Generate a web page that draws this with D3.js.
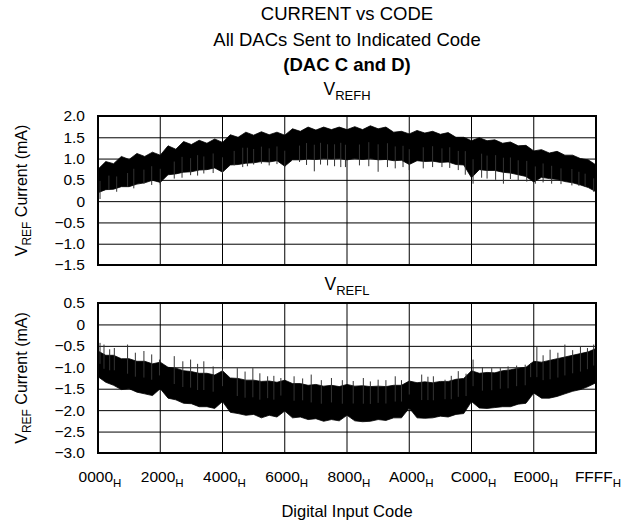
<!DOCTYPE html>
<html lang="en">
<head>
<meta charset="utf-8">
<title>Current vs Code</title>
<script src="https://cdnjs.cloudflare.com/ajax/libs/d3/7.8.5/d3.min.js"></script>
<style>
  body { margin: 0; background: #fff; }
  svg { display: block; font-family: "Liberation Sans", Arial, Helvetica, sans-serif; }
</style>
</head>
<body>
<svg id="chart" width="638" height="525"></svg>
<script>
// envelope sampled every 0x400 codes (index k -> code k*0x400)
const sampleStep = 0x400;

// x axis categories
const hexTicks = ["0000", "2000", "4000", "6000", "8000", "A000", "C000", "E000", "FFFF"];

// y tick labels
const refhTicks = [2.0, 1.5, 1.0, 0.5, 0, -0.5, -1.0, -1.5];
const reflTicks = [0.5, 0, -0.5, -1.0, -1.5, -2.0, -2.5, -3.0];

// VREFH band (mA): top and bottom edge of the dense trace
const refhUpper = [0.75, 0.93, 0.88, 1.05, 0.98, 1.12, 1.05, 1.15, 1.08, 1.30, 1.22, 1.40, 1.33, 1.43, 1.36, 1.46,
  1.38, 1.56, 1.50, 1.62, 1.55, 1.63, 1.56, 1.62, 1.55, 1.70, 1.64, 1.74, 1.67, 1.74, 1.68, 1.74,
  1.68, 1.75, 1.68, 1.77, 1.70, 1.74, 1.62, 1.64, 1.58, 1.66, 1.60, 1.64, 1.57, 1.61, 1.50, 1.50,
  1.42, 1.49, 1.42, 1.44, 1.36, 1.39, 1.30, 1.31, 1.18, 1.21, 1.13, 1.17, 1.08, 1.08, 1.00, 0.97, 0.85];
const refhLower = [0.20, 0.27, 0.28, 0.34, 0.34, 0.40, 0.43, 0.49, 0.44, 0.62, 0.64, 0.68, 0.69, 0.73, 0.74, 0.78,
  0.68, 0.85, 0.86, 0.89, 0.90, 0.93, 0.92, 0.95, 0.82, 0.97, 0.97, 0.99, 0.98, 1.00, 0.99, 1.00,
  0.97, 1.00, 0.98, 1.00, 0.97, 0.98, 0.95, 0.96, 0.86, 0.95, 0.93, 0.94, 0.91, 0.92, 0.86, 0.85,
  0.55, 0.74, 0.72, 0.72, 0.68, 0.66, 0.62, 0.58, 0.45, 0.56, 0.53, 0.51, 0.46, 0.43, 0.38, 0.32, 0.22];
// downward glitches: [code, mA]
const refhSpikes = [[266, 0.05], [1434, 0.26], [2458, 0.22], [3891, 0.34], [4710, 0.30], [6042, 0.41], [7066, 0.38],
  [8192, 0.39], [10035, 0.53], [11059, 0.55], [12186, 0.61], [13107, 0.60], [13926, 0.65], [15155, 0.66],
  [16384, 0.65], [17920, 0.84], [19046, 0.80], [19661, 0.82], [20480, 0.86], [21504, 0.88], [22528, 0.84],
  [23552, 0.87], [24576, 0.80], [26522, 0.92], [27443, 0.85], [28467, 0.70], [29286, 0.86], [30208, 0.84],
  [31130, 0.82], [31949, 0.80], [32563, 0.80], [34406, 0.84], [35635, 0.82], [36864, 0.69], [38093, 0.80],
  [39117, 0.77], [40141, 0.80], [40960, 0.73], [42803, 0.77], [44032, 0.80], [45261, 0.80], [46285, 0.78],
  [47411, 0.73], [48333, 0.62], [49357, 0.41], [50483, 0.55], [51200, 0.53], [52326, 0.50], [53350, 0.41],
  [54272, 0.52], [55296, 0.49], [56422, 0.46], [57549, 0.41], [58573, 0.44], [59699, 0.41], [60928, 0.40],
  [62362, 0.37], [63283, 0.36], [64102, 0.34], [65229, 0.22]];

// VREFL band (mA)
const reflUpper = [-0.62, -0.72, -0.72, -0.80, -0.80, -0.86, -0.86, -0.92, -0.88, -1.00, -1.02, -1.08, -1.10, -1.14, -1.14, -1.18,
  -1.08, -1.25, -1.26, -1.30, -1.30, -1.33, -1.32, -1.35, -1.30, -1.38, -1.38, -1.42, -1.40, -1.44, -1.42, -1.45,
  -1.40, -1.44, -1.43, -1.45, -1.44, -1.45, -1.42, -1.42, -1.32, -1.36, -1.34, -1.36, -1.33, -1.33, -1.28, -1.26,
  -1.08, -1.14, -1.12, -1.13, -1.08, -1.06, -1.02, -1.00, -0.86, -0.88, -0.84, -0.80, -0.76, -0.72, -0.68, -0.64, -0.56];
const reflLower = [-1.22, -1.35, -1.42, -1.52, -1.50, -1.58, -1.62, -1.66, -1.50, -1.72, -1.76, -1.84, -1.85, -1.92, -1.92, -1.96,
  -1.80, -2.05, -2.08, -2.12, -2.10, -2.18, -2.12, -2.16, -2.02, -2.18, -2.16, -2.22, -2.20, -2.26, -2.22, -2.25,
  -2.12, -2.25, -2.27, -2.26, -2.22, -2.24, -2.18, -2.18, -1.95, -2.18, -2.19, -2.18, -2.14, -2.16, -2.10, -2.08,
  -1.80, -1.95, -1.96, -1.94, -1.92, -1.92, -1.86, -1.84, -1.60, -1.72, -1.72, -1.68, -1.62, -1.56, -1.52, -1.45, -1.36];
// upward glitches: [code, mA]
const reflSpikes = [[266, -0.43], [788, -0.47], [1536, -0.58], [2150, -0.55], [3891, -0.47], [4915, -0.66], [6042, -0.62],
  [7066, -0.70], [8090, -0.82], [10035, -0.74], [11162, -0.86], [12186, -0.82], [13107, -0.92], [13926, -0.86],
  [15155, -0.98], [16384, -0.82], [18330, -1.02], [19354, -1.10], [20378, -1.02], [21299, -1.14], [22323, -1.21],
  [23142, -1.20], [24064, -1.25], [25805, -1.21], [26931, -1.26], [28058, -1.17], [29389, -1.30], [30720, -1.25],
  [32154, -1.30], [33587, -1.32], [34918, -1.25], [35840, -1.33], [36864, -1.29], [37888, -1.30], [39117, -1.21],
  [39936, -1.30], [40960, -1.05], [42598, -1.17], [43418, -1.22], [44134, -1.21], [45670, -1.29], [46490, -1.20],
  [47411, -1.09], [48435, -1.15], [49357, -0.82], [50586, -1.00], [51814, -1.02], [52941, -1.02], [53965, -0.98],
  [55091, -0.96], [56218, -0.94], [56934, -0.90], [57754, -0.51], [58573, -0.72], [59494, -0.59], [60518, -0.66],
  [61440, -0.47], [62464, -0.60], [63488, -0.51], [64410, -0.55], [65229, -0.47]];

const svg = d3.select("#chart");
const left = 98, right = 596;
const x = d3.scaleLinear().domain([0, 0xFFFF]).range([left, right]);
const tickCodes = hexTicks.map(h => parseInt(h, 16));

function fmt(v) {
  if (v === 0) return "0";
  return (v < 0 ? "\u2212" : "") + Math.abs(v).toFixed(1);
}

// titles
const titles = [["CURRENT vs CODE", 20, "normal"], ["All DACs Sent to Indicated Code", 46, "normal"], ["(DAC C and D)", 71, "bold"]];
svg.selectAll("text.title").data(titles).enter().append("text")
  .attr("class", "title")
  .attr("x", (left + right) / 2).attr("y", d => d[1])
  .attr("text-anchor", "middle")
  .style("font-size", "18.5px").style("font-weight", d => d[2])
  .text(d => d[0]);

function drawPanel(top, bottom, ticks, upper, lower, spikes, name, labelY) {
  const y = d3.scaleLinear().domain([ticks[ticks.length - 1], ticks[0]]).range([bottom, top]);
  const g = svg.append("g");

  // sub title V_REFx
  const t = g.append("text").attr("x", (left + right) / 2).attr("y", labelY)
    .attr("text-anchor", "middle").style("font-size", "17.5px");
  t.append("tspan").text("V");
  t.append("tspan").attr("dy", 5).style("font-size", "13px").text(name);

  // grid
  g.append("g").attr("transform", "translate(" + left + ",0)")
    .call(d3.axisLeft(y).tickValues(ticks).tickSize(-(right - left)).tickFormat(fmt))
    .call(a => a.select(".domain").remove())
    .call(a => a.selectAll("line").attr("stroke", "#000").attr("stroke-width", 1))
    .call(a => a.selectAll("text").attr("x", -13).style("font-size", "15.5px").style("fill", "#000").style("font-family", "inherit"));
  g.append("g").selectAll("line").data(tickCodes).enter().append("line")
    .attr("x1", d => x(d)).attr("x2", d => x(d))
    .attr("y1", top).attr("y2", bottom)
    .attr("stroke", "#000").attr("stroke-width", 1);

  // trace
  const band = upper.map((u, k) => ({ code: Math.min(k * sampleStep, 0xFFFF), hi: u, lo: lower[k] }));
  const area = d3.area().x(d => x(d.code)).y0(d => y(d.lo)).y1(d => y(d.hi));
  g.append("path").datum(band).attr("d", area).attr("fill", "#000")
    .attr("stroke", "#000").attr("stroke-width", 0.8);
  g.append("g").selectAll("line").data(spikes).enter().append("line")
    .attr("x1", d => x(d[0])).attr("x2", d => x(d[0]))
    .attr("y1", d => y(d[1]))
    .attr("y2", d => {
      const k = Math.round(d[0] / sampleStep);
      return y((upper[k] + lower[k]) / 2);
    })
    .attr("stroke", "#333").attr("stroke-width", 1);

  // frame
  g.append("rect").attr("x", left).attr("y", top).attr("width", right - left).attr("height", bottom - top)
    .attr("fill", "none").attr("stroke", "#000").attr("stroke-width", 2);

  // y label
  const yl = g.append("text")
    .attr("transform", "translate(27," + ((top + bottom) / 2) + ") rotate(-90)")
    .attr("text-anchor", "middle").style("font-size", "16px");
  yl.append("tspan").text("V");
  yl.append("tspan").attr("dy", 4).style("font-size", "12px").text("REF");
  yl.append("tspan").attr("dy", -4).text(" Current (mA)");
}

drawPanel(116, 265, refhTicks, refhUpper, refhLower, refhSpikes, "REFH", 95);
drawPanel(303, 453, reflTicks, reflUpper, reflLower, reflSpikes, "REFL", 290);

// x axis labels with hex subscript
const xl = svg.append("g").selectAll("text").data(hexTicks).enter().append("text")
  .attr("x", d => x(parseInt(d, 16)) + 2).attr("y", 482)
  .attr("text-anchor", "middle").style("font-size", "15.5px");
xl.append("tspan").text(d => d);
xl.append("tspan").attr("dy", 5).style("font-size", "11.5px").text("H");

svg.append("text").attr("x", (left + right) / 2).attr("y", 517)
  .attr("text-anchor", "middle").style("font-size", "16.5px").text("Digital Input Code");
</script>
</body>
</html>
